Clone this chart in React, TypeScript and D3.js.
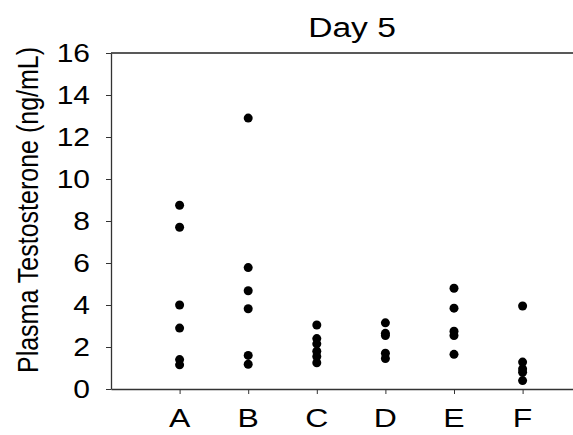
import React, { useEffect, useRef } from 'react';
import * as d3 from 'd3';

const categories = ['A', 'B', 'C', 'D', 'E', 'F'];
const groupA = [8.75, 7.7, 4.0, 2.9, 1.4, 1.15];
const groupB = [12.9, 5.78, 4.68, 3.82, 1.6, 1.18];
const groupC = [3.05, 2.4, 2.15, 1.8, 1.55, 1.25];
const groupD = [3.15, 2.65, 2.55, 1.7, 1.45];
const groupE = [4.8, 3.85, 2.75, 2.55, 1.65];
const groupF = [3.95, 1.28, 0.95, 0.8, 0.4];
const yTicks = [0, 2, 4, 6, 8, 10, 12, 14, 16];

const groups = [groupA, groupB, groupC, groupD, groupE, groupF];

const width = 573;
const height = 435;
const margin = { left: 111, top: 53, bottom: 46 };
const font = '"Liberation Sans", Arial, sans-serif';
// the text in the picture is a bit wider than plain Arial
const stretch = 1.2;

const App = () => {
    const ref = useRef<SVGSVGElement>(null);

    useEffect(() => {
        const svg = d3.select(ref.current);
        svg.selectAll('*').remove();

        // category i sits at i + 1, axis runs past the right edge of the window
        const x = d3.scaleLinear().domain([0, 7]).range([margin.left, margin.left + 7 * 68.6]);
        const y = d3.scaleLinear().domain([0, 16]).range([height - margin.bottom, margin.top]);

        const g = svg.append('g');

        // top frame line
        g.append('line')
            .attr('x1', x(0)).attr('x2', x(7))
            .attr('y1', y(16)).attr('y2', y(16))
            .attr('stroke', '#222').attr('stroke-width', 1.3);

        const yAxis = g.append('g')
            .attr('transform', `translate(${x(0)},0)`)
            .call(d3.axisLeft(y).tickValues(yTicks).tickSize(5).tickFormat(() => '').tickSizeOuter(0));

        const xAxis = g.append('g')
            .attr('transform', `translate(0,${y(0)})`)
            .call(d3.axisBottom(x)
                .tickValues(categories.map((_, i) => i + 1))
                .tickFormat(() => '')
                .tickSize(5).tickSizeOuter(0));

        [yAxis, xAxis].forEach(a => {
            a.selectAll('path').attr('stroke', '#333').attr('stroke-width', 1.3);
            a.selectAll('line').attr('stroke', '#333').attr('stroke-width', 1);
        });

        // tick labels
        g.selectAll('.ylab')
            .data(yTicks)
            .enter()
            .append('text')
            .attr('transform', d => `translate(90,${y(d)}) scale(${stretch},1)`)
            .attr('dy', '0.36em')
            .attr('text-anchor', 'end')
            .attr('font-family', font)
            .attr('font-size', 25)
            .text(d => d);

        g.selectAll('.xlab')
            .data(categories)
            .enter()
            .append('text')
            .attr('transform', (d, i) => `translate(${x(i + 1)},427) scale(${stretch + 0.08},1)`)
            .attr('text-anchor', 'middle')
            .attr('font-family', font)
            .attr('font-size', 25)
            .text(d => d);

        // points
        groups.forEach((vals, i) => {
            g.selectAll(null)
                .data(vals)
                .enter()
                .append('circle')
                .attr('cx', x(i + 1))
                .attr('cy', d => y(d))
                .attr('r', 4.5)
                .attr('fill', '#000');
        });

        // title
        svg.append('text')
            .attr('transform', `translate(352,37) scale(${stretch},1)`)
            .attr('text-anchor', 'middle')
            .attr('font-family', font)
            .attr('font-size', 28)
            .text('Day 5');

        // y label
        svg.append('text')
            .attr('transform', `translate(38,210) scale(${stretch},1) rotate(-90)`)
            .attr('text-anchor', 'middle')
            .attr('font-family', font)
            .attr('font-size', 25)
            .text('Plasma Testosterone (ng/mL)');
    }, []);

    return (
        <svg
            ref={ref}
            width={width}
            height={height}
            style={{ position: 'fixed', left: 0, top: 0, background: '#fff' }}
        />
    );
};

export default App;
